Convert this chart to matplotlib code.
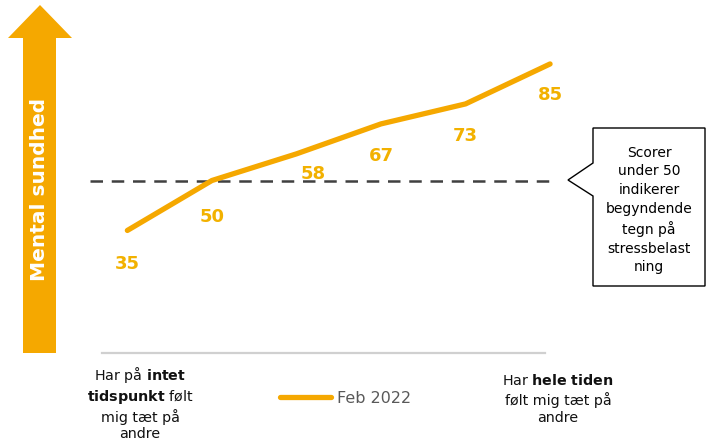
import matplotlib.pyplot as plt
from matplotlib.patches import Polygon

# data
steps = [0, 1, 2, 3, 4, 5]
scores = [35, 50, 58, 67, 73, 85]
series_name = "Feb 2022"
threshold = 50
y_title = "Mental sundhed"
callout = "Scorer\nunder 50\nindikerer\nbegyndende\ntegn på\nstressbelast\nning"
left_label = "Har på $\\bf{intet}$\n$\\bf{tidspunkt}$ følt\nmig tæt på\nandre"
right_label = "Har $\\bf{hele\\ tiden}$\nfølt mig tæt på\nandre"

ORANGE = "#F5A800"
LABEL = "#F2B100"

# label offsets in pixels (one per point)
label_offsets = [(0, -34), (0, -36), (17, -20), (0, -32), (0, -32), (0, -31)]

plt.rcParams["mathtext.fontset"] = "dejavusans"
fig = plt.figure(figsize=(7.08, 4.40), dpi=100)

# overlay in pixel coordinates for decorations
bg = fig.add_axes([0, 0, 1, 1])
bg.set_xlim(0, 708)
bg.set_ylim(440, 0)
bg.axis("off")

arrow = Polygon([(23, 353), (23, 38), (8, 38), (40, 5), (72, 38), (56, 38), (56, 353)],
                closed=True, facecolor=ORANGE, edgecolor="none")
bg.add_patch(arrow)
bg.text(40, 189, y_title, rotation=90, ha="center", va="center",
        color="white", fontsize=14.5, fontweight="bold")

box = Polygon([(593, 128), (705, 128), (705, 286), (593, 286), (593, 196),
               (568, 180), (593, 163)], closed=True, facecolor="white",
              edgecolor="black", lw=1)
bg.add_patch(box)
bg.text(649, 210, callout, ha="center", va="center", fontsize=10,
        linespacing=1.42, color="black")

bg.text(140, 403, left_label, ha="center", va="center", fontsize=10.3,
        linespacing=1.22, color="#111111")
bg.text(558, 399, right_label, ha="center", va="center", fontsize=10.3,
        linespacing=1.3, color="#111111")

# main axes
ax = fig.add_axes([102 / 708, 87 / 440, 443 / 708, 333 / 440])
ax.set_xlim(-0.3, 4.94)
ax.set_ylim(-1.8, 98.2)
ax.patch.set_alpha(0)

ax.plot([-0.44, 5.0], [threshold, threshold], color="#404040", lw=1.8,
        dashes=(5, 3.5), clip_on=False)
ax.plot(steps, scores, color=ORANGE, lw=3.8, solid_capstyle="round",
        solid_joinstyle="round", clip_on=False, label=series_name)

for x, y, off in zip(steps, scores, label_offsets):
    ax.annotate(str(y), (x, y), xytext=off, textcoords="offset pixels",
                ha="center", va="center", color=LABEL, fontsize=13,
                fontweight="bold", annotation_clip=False)

for s in ["top", "right", "left"]:
    ax.spines[s].set_visible(False)
ax.spines["bottom"].set_color("#D0D0D0")
ax.spines["bottom"].set_linewidth(1.6)
ax.set_xticks([])
ax.set_yticks([])

fig.legend(loc="center", bbox_to_anchor=(345.5 / 708, 1 - 398 / 440),
           frameon=False, fontsize=11.5, handlelength=3.2, handletextpad=0.35,
           labelcolor="#595959")

fig.savefig("out.png", dpi=100)
